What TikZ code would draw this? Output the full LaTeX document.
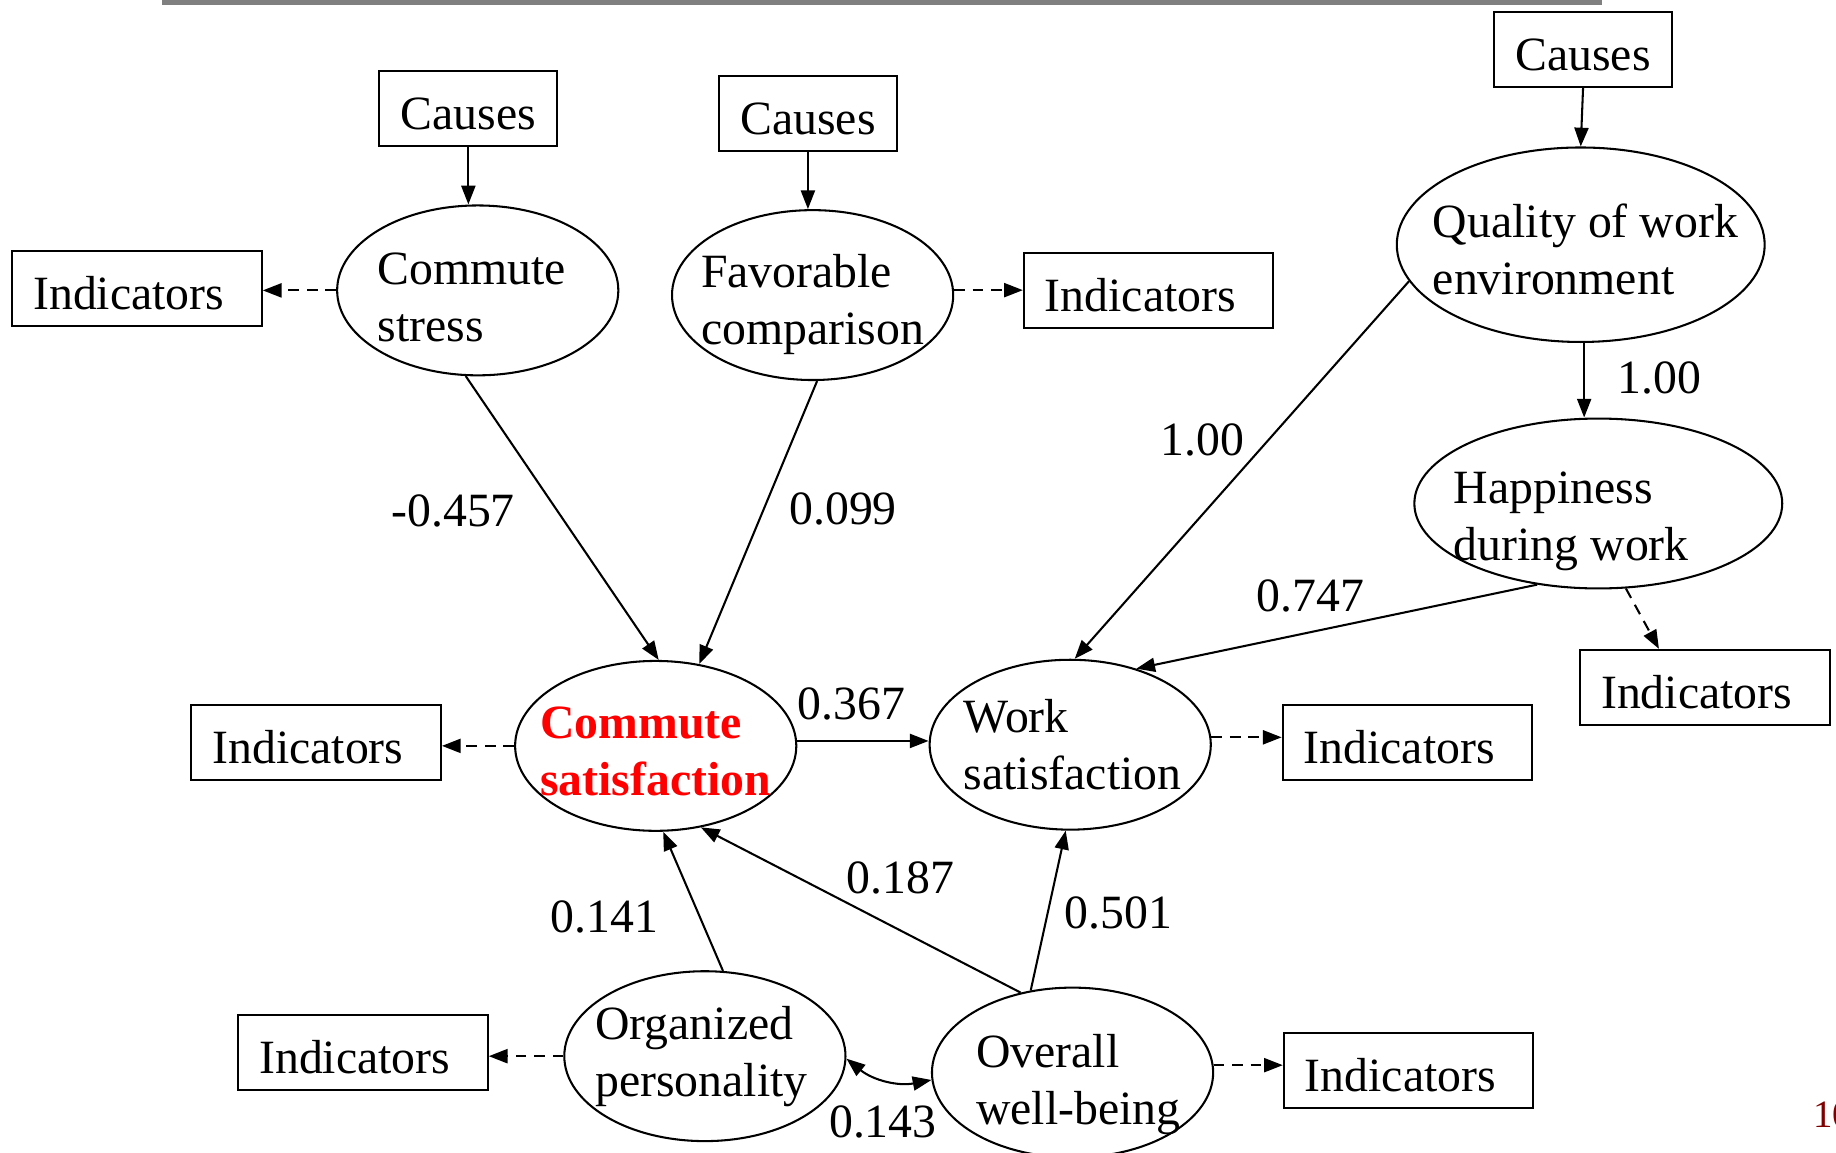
\documentclass[tikz,border=0pt]{standalone}
\usepackage{fontspec}
\setmainfont{Liberation Serif}
\usetikzlibrary{shapes.geometric,arrows.meta}
\definecolor{pagered}{RGB}{128,0,0}
\begin{document}
\begin{tikzpicture}[x=0.01cm,y=-0.01cm,font=\fontsize{11.6}{13.8}\selectfont,
	box/.style={draw,rectangle,line width=0.5pt,minimum width=2.13cm,minimum height=0.64cm,inner sep=0pt,text height=0.36cm,text depth=0pt},
	ind/.style={box,execute at end node=\hspace{0.14cm}},
	cause/.style={box,minimum width=1.52cm},
	latent/.style={draw,ellipse,line width=0.5pt,minimum width=2.4cm,minimum height=1.45cm,inner sep=0pt},
	txt/.style={align=left,inner sep=0pt},
	link/.style={line width=0.5pt,-{Triangle[length=1.6mm,width=1.2mm]}},
	dlink/.style={link,dash pattern=on 2.6pt off 1.9pt},
	coef/.style={inner sep=0pt}]
	\useasboundingbox (0,0) rectangle (1568,984);
	\fill[gray] (138,0) rectangle (1368,4);
	\node[cause] (c1) at (400,93) {Causes};
	\node[cause] (c2) at (690,97) {Causes};
	\node[cause] (c3) at (1352,42) {Causes};
	\node[latent,label={[txt,xshift=-0.05cm,yshift=-0.06cm]center:Commute\\stress}] (cs) at (408,248) {};
	\node[latent,label={[txt,yshift=-0.08cm]center:Favorable\\comparison}] (fav) at (694,252) {};
	\node[latent,minimum width=3.14cm,minimum height=1.66cm,label={[txt,xshift=0.04cm,yshift=-0.04cm]center:Quality of work\\environment}] (qwe) at (1350,209) {};
	\node[latent,minimum width=3.14cm,label={[txt,xshift=-0.23cm,yshift=-0.15cm]center:Happiness\\during work}] (hap) at (1365,430) {};
	\node[latent,label={[txt,yshift=-0.05cm,text=red,font=\fontsize{11.6}{13.8}\selectfont\bfseries]center:Commute\\satisfaction}] (csat) at (560,637) {};
	\node[latent,label={[txt,xshift=0.02cm]center:Work\\satisfaction}] (ws) at (914,636) {};
	\node[latent,label={[txt,xshift=-0.03cm]center:Organized\\personality}] (org) at (602,902) {};
	\node[latent,label={[txt,xshift=0.05cm,yshift=-0.1cm]center:Overall\\well-being}] (ow) at (916,916) {};
	\node[ind] (i1) at (117,246) {Indicators};
	\node[ind] (i2) at (981,248) {Indicators};
	\node[ind] (i3) at (270,634) {Indicators};
	\node[ind] (i4) at (1202,634) {Indicators};
	\node[ind] (i5) at (1456,587) {Indicators};
	\node[ind] (i6) at (310,899) {Indicators};
	\node[ind] (i7) at (1203,914) {Indicators};
	\draw[link] (c1.south) -- (c1.south |- cs.north);
	\draw[link] (c2.south) -- (c2.south |- fav.north);
	\draw[link] (c3.south) -- (qwe.north);
	\draw[dlink] (cs.west) -- (cs.west -| i1.east);
	\draw[dlink] (fav.2) -- (fav.2 -| i2.west);
	\draw[link] (qwe.272) -- (qwe.272 |- hap.north);
	\draw[link] (qwe.192) -- (ws.87);
	\draw[link] (hap.233) -- (ws.49);
	\draw[dlink] (hap.288) -- (i5.140);
	\draw[link] (cs.262) -- (csat.88);
	\draw[link] (fav.273) -- (csat.62);
	\draw[dlink] (csat.west) -- (csat.west -| i3.east);
	\draw[link] (csat.2) -- (csat.2 -| ws.west);
	\draw[dlink] (ws.3) -- (ws.3 -| i4.west);
	\draw[link] (org.78) -- (csat.275);
	\draw[link] (ow.123) -- (csat.299);
	\draw[link] (ow.117) -- (ws.267);
	\draw[line width=0.5pt,{Triangle[length=1.6mm,width=1.2mm]}-{Triangle[length=1.6mm,width=1.2mm]}] (org.359) to[bend right=25] (ow.183);
	\draw[dlink] (org.west) -- (org.west -| i6.east);
	\draw[dlink] (ow.3) -- (ow.3 -| i7.west);
	\node[coef] (k1) at (387,436) {-0.457};
	\node[coef] (k2) at (720,435) {0.099};
	\node[coef] (k3) at (1027,376) {1.00};
	\node[coef] (k4) at (1417,323) {1.00};
	\node[coef] (k5) at (1119,509) {0.747};
	\node[coef] (k6) at (727,601) {0.367};
	\node[coef] (k7) at (769,750) {0.187};
	\node[coef] (k8) at (516,783) {0.141};
	\node[coef] (k9) at (955,780) {0.501};
	\node[coef] (k10) at (754,958) {0.143};
	\node[anchor=base west,inner sep=0pt,text=pagered,font=\fontsize{9.4}{11}\selectfont] (pg) at (1548,963) {10};
\end{tikzpicture}
\end{document}
